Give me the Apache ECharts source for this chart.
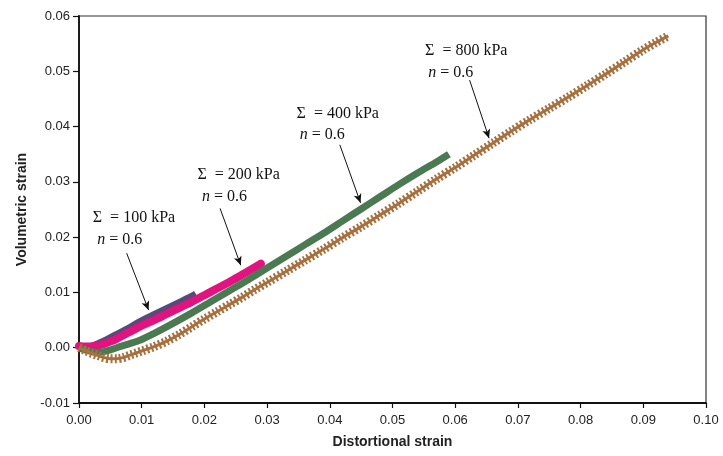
<!DOCTYPE html>
<html>
<head>
<meta charset="utf-8">
<script src="https://cdn.jsdelivr.net/npm/echarts@6/dist/echarts.min.js"></script>
<style>
html,body{margin:0;padding:0;background:#fff;}
#chart{width:723px;height:456px;}
</style>
</head>
<body>
<div id="chart"></div>
<script>
// Σ = 100 kPa, n = 0.6
var x100 = [0, 0.001, 0.002, 0.003, 0.004, 0.006, 0.008, 0.010, 0.012, 0.014, 0.016, 0.018, 0.0186];
var y100 = [0, 0.0001, 0.0004, 0.0008, 0.0013, 0.0025, 0.0037, 0.0050, 0.0061, 0.0072, 0.0083, 0.0094, 0.0098];
// Σ = 200 kPa, n = 0.6
var x200 = [0, 0.001, 0.002, 0.003, 0.004, 0.005, 0.006, 0.008, 0.010, 0.012, 0.014, 0.016, 0.018, 0.020, 0.022, 0.024, 0.026, 0.028, 0.029];
var y200 = [0.0003, 0.0002, 0.0002, 0.0004, 0.0007, 0.0011, 0.0016, 0.0028, 0.0040, 0.0050, 0.0061, 0.0072, 0.0083, 0.0095, 0.0107, 0.0119, 0.0132, 0.0145, 0.0152];
// Σ = 400 kPa, n = 0.6
var x400 = [0, 0.001, 0.002, 0.003, 0.004, 0.005, 0.006, 0.008, 0.010, 0.012, 0.015, 0.018, 0.021, 0.024, 0.027, 0.030, 0.033, 0.036, 0.039, 0.042, 0.045, 0.048, 0.051, 0.054, 0.057, 0.0590];
var y400 = [0, -0.0004, -0.0007, -0.0008, -0.0007, -0.0004, 0.0000, 0.0007, 0.0015, 0.0026, 0.0044, 0.0063, 0.0083, 0.0103, 0.0123, 0.0144, 0.0165, 0.0186, 0.0207, 0.0229, 0.0251, 0.0273, 0.0295, 0.0316, 0.0336, 0.0350];
// Σ = 800 kPa, n = 0.6
var x800 = [0, 0.001, 0.002, 0.003, 0.004, 0.005, 0.006, 0.007, 0.008, 0.009, 0.010, 0.012, 0.014, 0.016, 0.018, 0.020, 0.022, 0.024, 0.026, 0.028, 0.030, 0.033, 0.036, 0.039, 0.042, 0.045, 0.048, 0.051, 0.054, 0.057, 0.060, 0.063, 0.066, 0.069, 0.072, 0.075, 0.078, 0.081, 0.084, 0.087, 0.090, 0.092, 0.0940];
var y800 = [0, -0.0005, -0.0010, -0.0014, -0.0018, -0.0020, -0.0020, -0.0018, -0.0014, -0.0010, -0.0006, 0.0002, 0.0012, 0.0024, 0.0038, 0.0052, 0.0065, 0.0078, 0.0091, 0.0105, 0.0118, 0.0138, 0.0158, 0.0178, 0.0199, 0.0219, 0.0240, 0.0261, 0.0283, 0.0305, 0.0326, 0.0348, 0.0370, 0.0392, 0.0413, 0.0433, 0.0453, 0.0474, 0.0495, 0.0517, 0.0539, 0.0552, 0.0564];

// annotation texts and anchor positions (data space)
var annoSigma = ['100', '200', '400', '800'];
var annoSigmaPos = [[0.0022, 0.0235], [0.0189, 0.0312], [0.0347, 0.0424], [0.0552, 0.0537]];
var annoNPos = [[0.0029, 0.0195], [0.0196, 0.0273], [0.0352, 0.0385], [0.0557, 0.0497]];
var arrowFrom = [[0.0076, 0.0171], [0.0225, 0.0252], [0.0416, 0.0367], [0.0623, 0.0484]];
var arrowTo = [[0.0111, 0.0068], [0.0258, 0.0149], [0.0449, 0.0262], [0.0654, 0.0379]];

function zip(xs, ys) { return xs.map(function (x, i) { return [x, ys[i]]; }); }

var serif = 'Liberation Serif, Times New Roman, serif';
var sans = 'Liberation Sans, Arial, Helvetica, sans-serif';

var markPts = [];
annoSigma.forEach(function (s, i) {
  markPts.push({ coord: annoSigmaPos[i], value: 'Σ', label: { formatter: '{a|Σ  = ' + s + ' kPa}' } });
  markPts.push({ coord: annoNPos[i], value: 'n', label: { formatter: '{i|n}{a|\u2005= 0.6}' } });
});
var arrows = arrowFrom.map(function (f, i) { return [{ coord: f }, { coord: arrowTo[i] }]; });

var chart = echarts.init(document.getElementById('chart'), null, { renderer: 'canvas' });
chart.setOption({
  animation: false,
  backgroundColor: '#fff',
  grid: { left: 79, right: 17, top: 16, bottom: 53, show: true, borderColor: '#333', borderWidth: 1.2, backgroundColor: 'transparent' },
  xAxis: {
    type: 'value', min: 0, max: 0.1, interval: 0.01,
    name: 'Distortional strain', nameLocation: 'middle', nameGap: 32,
    nameTextStyle: { fontFamily: sans, fontWeight: 'bold', fontSize: 14, color: '#222' },
    axisLine: { show: true, onZero: false, lineStyle: { color: '#111', width: 1.8 } },
    axisTick: { show: true, length: 5, lineStyle: { color: '#111', width: 1.2 } },
    axisLabel: { fontFamily: sans, fontSize: 13, color: '#222', margin: 11, formatter: function (v) { return v.toFixed(2); } },
    splitLine: { show: false }
  },
  yAxis: {
    type: 'value', min: -0.01, max: 0.06, interval: 0.01,
    name: 'Volumetric strain', nameLocation: 'middle', nameGap: 50,
    nameTextStyle: { fontFamily: sans, fontWeight: 'bold', fontSize: 14, color: '#222' },
    axisLine: { show: true, onZero: false, lineStyle: { color: '#111', width: 1.8 } },
    axisTick: { show: true, length: 6, lineStyle: { color: '#111', width: 1.2 } },
    axisLabel: { fontFamily: sans, fontSize: 13, color: '#222', margin: 9, formatter: function (v) { return v.toFixed(2); } },
    splitLine: { show: false }
  },
  series: [
    {
      name: '100 kPa', type: 'line', data: zip(x100, y100), showSymbol: false, smooth: 0.3, z: 2,
      lineStyle: { color: '#584a7a', width: 6, cap: 'butt' }
    },
    {
      name: '200 kPa', type: 'line', data: zip(x200, y200), showSymbol: false, smooth: 0.3, z: 3,
      lineStyle: { color: '#e2137f', width: 8, cap: 'round' }
    },
    {
      name: '400 kPa', type: 'line', data: zip(x400, y400), showSymbol: false, smooth: 0.3, z: 3,
      lineStyle: { color: '#4b7a52', width: 7, cap: 'butt' }
    },
    {
      name: '800 kPa', type: 'line', data: zip(x800, y800), showSymbol: false, smooth: 0.3, z: 4,
      lineStyle: { color: '#a6703f', width: 3 }
    },
    {
      name: '800 kPa markers', type: 'line', data: zip(x800, y800), showSymbol: false, smooth: 0.3, z: 4,
      lineStyle: { color: '#a6703f', width: 9, type: [2, 2.2] },
      markLine: {
        silent: true, symbol: ['none', 'arrow'], symbolSize: [6, 9], precision: 5,
        label: { show: false },
        lineStyle: { color: '#111', width: 1, type: 'solid' },
        data: arrows
      },
      markPoint: {
        silent: true, symbol: 'circle', symbolSize: 0,
        label: {
          show: true, position: 'right', distance: 0, color: '#111',
          rich: {
            a: { fontFamily: serif, fontSize: 16, color: '#111' },
            i: { fontFamily: serif, fontSize: 16, fontStyle: 'italic', color: '#111' }
          }
        },
        data: markPts
      }
    }
  ]
});
</script>
</body>
</html>
